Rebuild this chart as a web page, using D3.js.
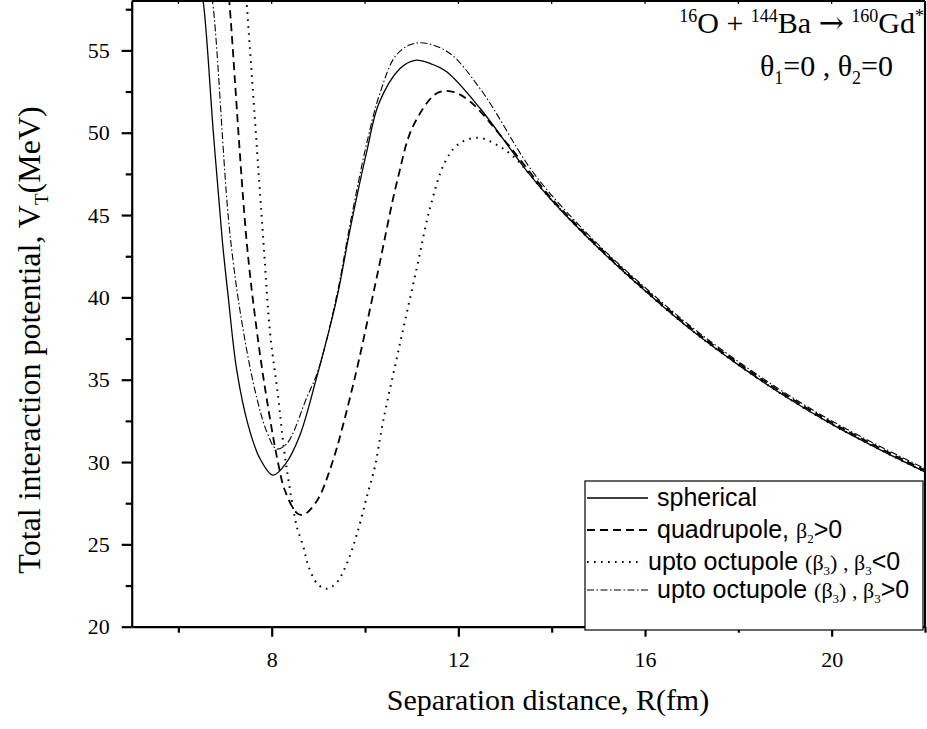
<!DOCTYPE html>
<html><head><meta charset="utf-8">
<script src="https://cdn.jsdelivr.net/npm/d3@7"></script>
<style>body{margin:0;background:#fff}svg{display:block}</style>
</head><body><svg id="c" width="927" height="729"></svg>
<script>
// ---------- data ----------
const sphericalR = [6.45,6.53,6.75,6.94,7.07,7.25,7.5,7.75,8.03,8.3,8.6,8.95,9.4,9.67,10.04,10.3,10.75,11.07,11.4,11.75,12.46,13.46,14,15,16,17,18,19,20,21,22];
const sphericalV = [59,58,50,43.5,40,35.6,32.2,30.2,29.2,29.9,31.6,35,40,44,48.9,51.8,53.9,54.4,54.2,53.7,51.5,47.7,45.9,43.0,40.4,38.0,35.9,34.0,32.3,30.8,29.4];

const quadR = [7.05,7.09,7.46,7.68,7.89,8.14,8.28,8.54,8.68,8.96,9.28,9.75,10.25,10.7,11.03,11.54,11.86,12.25,13.0,14,15,16,17,18,19,20,21,22];
const quadV = [59,58,43.5,38,33.9,29.9,28.3,26.9,26.8,27.6,29.8,34.75,41.2,47.2,50.4,52.4,52.5,51.9,49.5,46.0,43.1,40.5,38.1,36.0,34.1,32.4,30.9,29.5];

const octNegR = [7.43,7.46,7.82,7.96,8.14,8.25,8.36,8.54,8.68,8.78,8.98,9.18,9.39,9.61,9.82,10.04,10.21,10.39,10.75,11.11,11.39,11.71,12.0,12.43,12.86,13.2,14,15,16,17,18,19,20,21,22];
const octNegV = [59,58,43.5,38,33.9,31.1,28.9,26.06,24.85,23.74,22.6,22.3,22.67,23.84,25.56,27.9,29.7,32.5,37.2,41.8,45.4,48.2,49.3,49.7,49.2,48.5,45.9,43.0,40.4,38.0,35.9,34.0,32.3,30.8,29.4];

const octPosR = [6.65,6.73,7.1,7.39,7.68,7.9,8.1,8.32,8.75,9.0,9.4,9.67,10.04,10.32,10.68,11.1,11.75,12.46,13.5,14,15,16,17,18,19,20,21,22];
const octPosV = [59,58,44,38,33.9,31.8,30.8,31.1,33.9,35.6,40.2,44.3,49.4,52.4,54.75,55.45,54.95,52.7,48.0,46.2,43.2,40.6,38.2,36.1,34.2,32.5,31.0,29.6];

const xTickValues = [8,12,16,20];
const xMinorValues = [6,10,14,18,22];
const yTickValues = [20,25,30,35,40,45,50,55];
const yMinorValues = [22.5,27.5,32.5,37.5,42.5,47.5,52.5,57.5];
const legendNames = ["spherical","quadrupole","upto octupole","upto octupole"];

// ---------- layout ----------
const svg = d3.select("#c");
const L = 131.7, R = 925, T = 1, B = 626.7;
const x = d3.scaleLinear().domain([5,22]).range([L,R]);
const y = d3.scaleLinear().domain([20,58]).range([B,T]);
const serif = "'Liberation Serif','Times New Roman',serif";
const sans = "'Liberation Sans',Arial,sans-serif";

svg.append("rect").attr("width",927).attr("height",729).attr("fill","#fff");
svg.append("defs").append("clipPath").attr("id","clip")
  .append("rect").attr("x",L).attr("y",T).attr("width",R-L).attr("height",B-T);

// rich text helper: parts = [text, size, family, baselineShift]
function rich(sel, parts){
  let cur = 0;
  parts.forEach(([t,size,fam,shift])=>{
    const sp = sel.append("tspan").attr("font-size",size).attr("dy",shift-cur).text(t);
    if(fam) sp.attr("font-family",fam);
    cur = shift;
  });
}

// ---------- curves ----------
const series = [
  {r:sphericalR, v:sphericalV, dash:null, w:1.3},
  {r:quadR, v:quadV, dash:"8,5", w:1.8},
  {r:octNegR, v:octNegV, dash:"1.6,5.4", w:2},
  {r:octPosR, v:octPosV, dash:"7,2.5,1.5,2.5", w:1.1}
];
const line = d3.line().x(d=>x(d[0])).y(d=>y(d[1])).curve(d3.curveCatmullRom.alpha(0.5));
const g = svg.append("g").attr("clip-path","url(#clip)");
series.forEach(s=>{
  const pts = s.r.map((r,i)=>[r,s.v[i]]);
  g.append("path").attr("d",line(pts)).attr("fill","none").attr("stroke","#000")
    .attr("stroke-width",s.w).attr("stroke-dasharray",s.dash);
});

// ---------- axes ----------
function styleAxis(sel){
  sel.select(".domain").attr("stroke-width",2.2);
  sel.selectAll(".tick line").attr("stroke-width",2.2);
  sel.selectAll("text").attr("font-family",serif).attr("font-size",22).attr("fill","#000");
}
const yAx = svg.append("g").attr("transform",`translate(${L},0)`)
  .call(d3.axisLeft(y).tickValues(yTickValues).tickSize(10).tickSizeOuter(0).tickPadding(12).tickFormat(d3.format("d")));
styleAxis(yAx);
const yMin = svg.append("g").attr("transform",`translate(${L},0)`)
  .call(d3.axisLeft(y).tickValues(yMinorValues).tickSize(6).tickSizeOuter(0).tickFormat(""));
styleAxis(yMin); yMin.select(".domain").remove();

const xAx = svg.append("g").attr("transform",`translate(0,${B})`)
  .call(d3.axisBottom(x).tickValues(xTickValues).tickSize(10).tickSizeOuter(0).tickFormat(d3.format("d")));
styleAxis(xAx);
xAx.selectAll("text").attr("y",40).attr("dy",0);
const xMin = svg.append("g").attr("transform",`translate(0,${B})`)
  .call(d3.axisBottom(x).tickValues(xMinorValues).tickSize(6).tickSizeOuter(0).tickFormat(""));
styleAxis(xMin); xMin.select(".domain").remove();

// top and right frame
svg.append("line").attr("x1",L).attr("x2",R).attr("y1",T).attr("y2",T).attr("stroke","#000").attr("stroke-width",2.2);
svg.append("line").attr("x1",R).attr("x2",R).attr("y1",T).attr("y2",B).attr("stroke","#000").attr("stroke-width",2.2);
svg.append("g").selectAll("line").data(xMinorValues.concat(xTickValues)).join("line")
  .attr("x1",d=>x(d)).attr("x2",d=>x(d)).attr("y1",T).attr("y2",T+3).attr("stroke","#000").attr("stroke-width",1.2);

// ---------- axis titles ----------
svg.append("text").attr("x",548).attr("y",710).attr("text-anchor","middle")
  .attr("font-family",serif).attr("font-size",30).text("Separation distance, R(fm)");
const yt = svg.append("text").attr("transform","translate(40,340) rotate(-90)").attr("text-anchor","middle")
  .attr("font-family",serif);
rich(yt, [["Total interaction potential, V",32,null,0],["T",19,null,8],["(MeV)",32,null,0]]);

// ---------- annotation ----------
const t1 = svg.append("text").attr("x",924).attr("y",33).attr("text-anchor","end").attr("font-family",serif);
rich(t1, [["16",18,null,-11],["O + ",30,null,0],["144",18,null,-11],["Ba ",30,null,0],
          ["\u2192",30,"'DejaVu Serif',serif",0],[" ",30,null,0],["160",18,null,-11],["Gd",30,null,0],["*",18,null,-11]]);
const t2 = svg.append("text").attr("x",893).attr("y",76).attr("text-anchor","end").attr("font-family",serif);
rich(t2, [["\u03b8",30,null,0],["1",18,null,8],["=0 , \u03b8",30,null,0],["2",18,null,8],["=0",30,null,0]]);

// ---------- legend ----------
const lg = svg.append("g");
lg.append("rect").attr("x",585).attr("y",481).attr("width",338).attr("height",149)
  .attr("fill","#fff").attr("stroke","#000").attr("stroke-width",1.2);
const rowsY = [498,530,562,590];
const sampleEnd = [648,648,643,648];
const textX = [657,657,648,657];
series.forEach((s,i)=>{
  lg.append("line").attr("x1",587).attr("x2",sampleEnd[i]).attr("y1",rowsY[i]).attr("y2",rowsY[i])
    .attr("stroke","#000").attr("stroke-width",s.w).attr("stroke-dasharray",s.dash);
  const t = lg.append("text").attr("x",textX[i]).attr("y",rowsY[i]+8).attr("font-family",sans);
  const F = 25, G = 22, S = 13;
  if(i===0) rich(t, [[legendNames[0],F,null,0]]);
  else if(i===1) rich(t, [[legendNames[1]+", ",F,null,0],["\u03b2",G,serif,0],["2",S,serif,5],[">0",F,null,0]]);
  else rich(t, [[legendNames[i]+" ",F,null,0],["(\u03b2",G,serif,0],["3",S,serif,5],[") , \u03b2",G,serif,0],["3",S,serif,5],[i===2?"<0":">0",F,null,0]]);
});
</script></body></html>
